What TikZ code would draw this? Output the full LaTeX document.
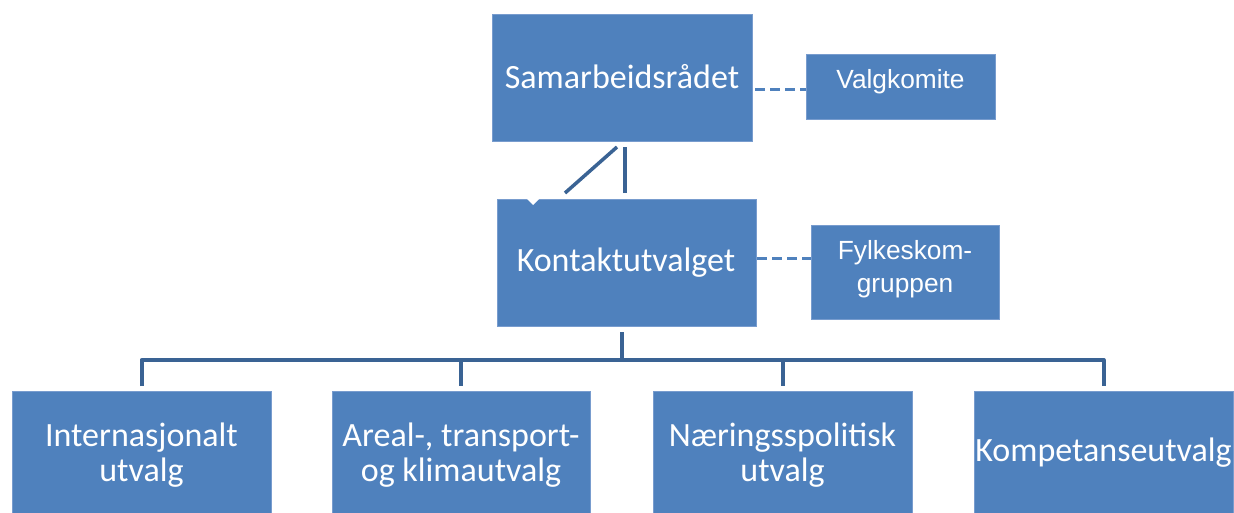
\documentclass[tikz,border=0pt]{standalone}
\usepackage{fontspec}
\setmainfont{Carlito}
\newfontfamily\arialf{Liberation Sans}
\definecolor{boxblue}{RGB}{79,129,189}
\definecolor{boxedge}{RGB}{120,156,206}
\definecolor{linkblue}{RGB}{58,99,148}
\begin{document}
\begin{tikzpicture}[x=1pt,y=-1pt,
  orgbox/.style={fill=boxblue,draw=boxedge,line width=0.8pt,inner sep=0pt,anchor=center},
  bigtext/.style={text=white,font=\fontsize{34}{35}\selectfont,align=center,inner sep=0pt,anchor=center},
  smalltext/.style={text=white,font=\arialf\fontsize{26.3}{33}\selectfont,align=center,inner sep=0pt,anchor=center},
  tree/.style={draw=linkblue,line width=4pt},
  side/.style={draw=boxblue,line width=3pt,dash pattern=on 10pt off 5pt}]
\useasboundingbox[fill=white] (0,0) rectangle (1234,512);
\begin{scope}
\clip (0,0) rectangle (1234,512);
% boxes
\node[orgbox,minimum width=260pt,minimum height=127pt] (samarb) at (622,77.5) {};
\node[orgbox,minimum width=189pt,minimum height=65pt] (valg) at (900.5,86.5) {};
\node[orgbox,minimum width=259pt,minimum height=127pt] (kontakt) at (626.5,263) {};
\node[orgbox,minimum width=188pt,minimum height=94pt] (fylke) at (905,272) {};
\node[orgbox,minimum width=259pt,minimum height=132pt] (b1) at (141.5,457) {};
\node[orgbox,minimum width=258pt,minimum height=132pt] (b2) at (461,457) {};
\node[orgbox,minimum width=259pt,minimum height=132pt] (b3) at (782.5,457) {};
\node[orgbox,minimum width=259pt,minimum height=132pt] (b4) at (1103.5,457) {};
% texts
\node[bigtext] (samarbT) at (622,77) {Samarbeidsrådet};
\node[bigtext] (kontaktT) at (626,263) {Kontaktutvalget};
\node[smalltext] (valgT) at (900.5,82) {Valgkomite};
\node[smalltext] (fylkeT) at (905,269.5) {Fylkeskom-\\gruppen};
\node[bigtext] (b1T) at (141.5,455) {Internasjonalt\\utvalg};
\node[bigtext] (b2T) at (461,455) {Areal-, transport-\\og klimautvalg};
\node[bigtext] (b3T) at (782.5,455) {Næringsspolitisk\\utvalg};
\node[bigtext] (b4T) at (1103.5,453) {Kompetanseutvalg};
% connectors between the top boxes
\coordinate (s1) at (625,147);
\coordinate (s2) at (617,147);
\coordinate (k1) at (625,193);
\coordinate (k2) at (565,193);
\draw[tree,line width=3.5pt] (k1) -- (s1);
\draw[tree,line width=3.5pt] (k2) -- (s2);
\fill[white] (527,199) -- (539,199) -- (533,205) -- cycle;
% side dashed links
\coordinate (d1) at (755,89);
\draw[side] (d1) -- (d1 -| valg.west);
\coordinate (d2) at (757,258);
\draw[side] (d2) -- (d2 -| fylke.west);
% tree
\coordinate (t0) at (622,332);
\coordinate (hy) at (622,360);
\draw[tree] (t0) -- (hy);
\draw[tree,line join=round] (b1.north |- 0,386) -- (b1.north |- hy) -- (b4.north |- hy) -- (b4.north |- 0,386);
\draw[tree] (b2.north |- hy) -- (b2.north |- 0,386);
\draw[tree] (b3.north |- hy) -- (b3.north |- 0,386);
\end{scope}
\end{tikzpicture}
\end{document}
